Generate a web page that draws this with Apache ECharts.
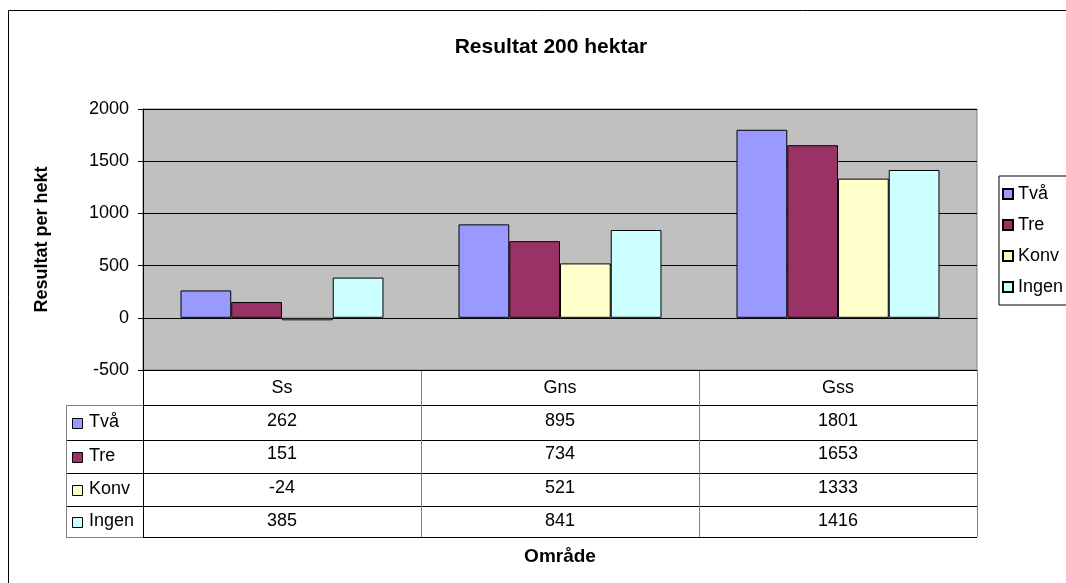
<!DOCTYPE html>
<html>
<head>
<meta charset="utf-8">
<script src="https://cdn.jsdelivr.net/npm/echarts@6/dist/echarts.min.js"></script>
<style>
  html, body { margin: 0; padding: 0; background: #fff; }
  #main { width: 1066px; height: 583px; }
</style>
</head>
<body>
<div id="main"></div>
<script>
const categories = ["Ss", "Gns", "Gss"];
const seriesNames = ["Två", "Tre", "Konv", "Ingen"];
const tva = [262, 895, 1801];
const tre = [151, 734, 1653];
const konv = [-24, 521, 1333];
const ingen = [385, 841, 1416];
const yTicks = [-500, 0, 500, 1000, 1500, 2000];

const seriesValues = [tva, tre, konv, ingen];
const colors = ["#9999FF", "#993366", "#FFFFCC", "#CCFFFF"];

// layout of the plot and the data table under it
const GL = 143, GT = 109, GW = 834, GH = 261;
const rowY = [370, 405, 440, 473, 506, 537];
const tableLeft = 66;
const font = "Liberation Sans, Arial, sans-serif";

function tableGraphics() {
  const items = [];
  const line = (x1, y1, x2, y2, color) => items.push({
    type: "line",
    shape: { x1: x1, y1: y1, x2: x2, y2: y2 },
    style: { stroke: color, lineWidth: 1 },
    silent: true,
  });
  // horizontal rules
  for (let i = 1; i < rowY.length; i++) {
    line(GL, rowY[i] + 0.5, GL + GW, rowY[i] + 0.5, "#000");
    line(tableLeft, rowY[i] + 0.5, GL, rowY[i] + 0.5, i === 1 || i === rowY.length - 1 ? "#808080" : "#000");
  }
  // vertical rules
  const colW = GW / categories.length;
  for (let c = 1; c < categories.length; c++) {
    line(GL + c * colW + 0.5, rowY[0], GL + c * colW + 0.5, rowY[rowY.length - 1], "#808080");
  }
  line(GL + GW + 0.5, rowY[0], GL + GW + 0.5, rowY[rowY.length - 1], "#808080");
  line(GL + 0.5, rowY[0], GL + 0.5, rowY[rowY.length - 1], "#000");
  line(tableLeft + 0.5, rowY[1], tableLeft + 0.5, rowY[rowY.length - 1], "#808080");
  // row keys
  seriesNames.forEach((name, i) => {
    const cy = (rowY[i + 1] + rowY[i + 2]) / 2;
    items.push({
      type: "rect",
      shape: { x: 72.5, y: Math.round(cy - 5) + 0.5, width: 10, height: 10 },
      style: { fill: colors[i], stroke: "#000", lineWidth: 1 },
      silent: true,
    });
    items.push({
      type: "text",
      x: 89, y: cy,
      style: { text: name, font: "18px " + font, fill: "#000", verticalAlign: "middle" },
      silent: true,
    });
  });
  // outer chart frame
  items.push({
    type: "rect",
    shape: { x: 8.5, y: 10.5, width: 1200, height: 700 },
    style: { fill: null, stroke: "#000", lineWidth: 1 },
    silent: true,
  });
  return items;
}

function chartOption() {
  return {
    animation: false,
    backgroundColor: "#fff",
    textStyle: { fontFamily: font },
    title: {
      text: "Resultat 200 hektar",
      left: 546,
      top: 32,
      textAlign: "center",
      textStyle: { fontSize: 21, fontWeight: "bold", color: "#000", fontFamily: font },
    },
    legend: {
      data: seriesNames,
      orient: "vertical",
      left: 999,
      top: 176,
      padding: [9, 40, 9, 3],
      itemGap: 13,
      itemWidth: 10,
      itemHeight: 10,
      icon: "rect",
      borderColor: "#000",
      borderWidth: 1,
      textStyle: { fontSize: 18, color: "#000", fontFamily: font, padding: [0, 0, 0, 0] },
    },
    grid: {
      left: GL, top: GT, width: GW, height: GH,
      show: true,
      backgroundColor: "#C0C0C0",
      borderColor: "#808080",
      borderWidth: 1,
    },
    xAxis: {
      type: "category",
      data: categories,
      name: "Område",
      nameLocation: "middle",
      nameGap: 177,
      nameTextStyle: { fontSize: 19, fontWeight: "bold", color: "#000", fontFamily: font },
      axisLine: { show: true, lineStyle: { color: "#000" } },
      axisTick: { show: false },
      axisLabel: {
        margin: 1,
        fontSize: 18,
        color: "#000",
        lineHeight: 33.4,
        fontFamily: font,
        formatter: (value, idx) => [value].concat(seriesValues.map(v => v[idx])).join("\n"),
      },
    },
    yAxis: {
      type: "value",
      min: yTicks[0],
      max: yTicks[yTicks.length - 1],
      interval: yTicks[1] - yTicks[0],
      name: "Resultat per hekt",
      nameLocation: "middle",
      nameGap: 92,
      nameTextStyle: { fontSize: 18, fontWeight: "bold", color: "#000", fontFamily: font },
      axisLine: { show: true, lineStyle: { color: "#000" } },
      axisTick: { show: true, length: 5, lineStyle: { color: "#000" } },
      axisLabel: { fontSize: 18, color: "#000", margin: 14, fontFamily: font, formatter: v => String(v) },
      splitLine: { show: true, lineStyle: { color: "#000", width: 1 } },
    },
    series: seriesNames.map((name, i) => ({
      name: name,
      type: "bar",
      data: seriesValues[i],
      barGap: "0%",
      barCategoryGap: "27%",
      itemStyle: { color: colors[i], borderColor: "#000", borderWidth: 1 },
    })),
    graphic: tableGraphics(),
  };
}

function onLoad() {
  const chart = echarts.init(document.getElementById("main"), null, { renderer: "canvas" });
  chart.setOption(chartOption());
}

addEventListener("load", onLoad);
</script>
</body>
</html>
